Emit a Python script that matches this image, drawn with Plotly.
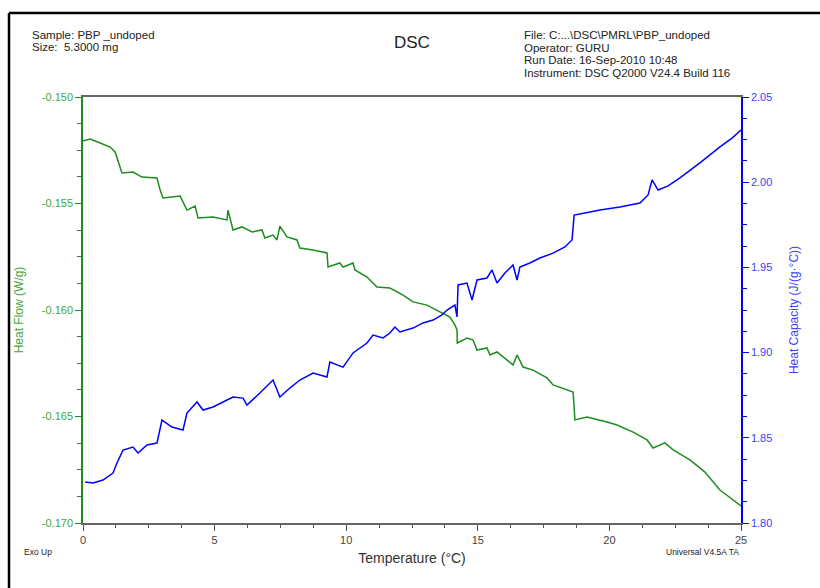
import plotly.graph_objects as go

# ---- data ----
temp_hf = [0.00, 0.27, 0.65, 1.03, 1.22, 1.48, 1.90, 2.24, 2.81, 2.93, 3.04, 3.69, 3.95, 4.26, 4.37,
           4.94, 5.47, 5.51, 5.70, 6.04, 6.42, 6.80, 6.91, 7.22, 7.37, 7.48, 7.75, 8.13, 8.24, 8.74,
           9.27, 9.31, 9.76, 9.88, 10.26, 10.33, 10.79, 11.17, 11.66, 12.16, 12.54, 13.07, 13.56,
           13.94, 14.13, 14.21, 14.22, 14.59, 14.82, 14.97, 15.35, 15.46, 15.73, 16.11, 16.34, 16.49,
           16.72, 17.10, 17.63, 17.86, 18.62, 18.69, 19.15, 19.91, 20.29, 20.90, 21.43, 21.66, 22.11,
           22.42, 23.06, 23.63, 24.20, 25.00]
heat_flow = [-0.15207, -0.15197, -0.15216, -0.15235, -0.15258, -0.15357, -0.15352, -0.15376, -0.15380,
             -0.15437, -0.15474, -0.15465, -0.15531, -0.15512, -0.15568, -0.15563, -0.15577, -0.15531,
             -0.15624, -0.15610, -0.15634, -0.15624, -0.15662, -0.15648, -0.15671, -0.15606, -0.15657,
             -0.15671, -0.15709, -0.15718, -0.15732, -0.15798, -0.15779, -0.15798, -0.15779, -0.15812,
             -0.15845, -0.15892, -0.15897, -0.15930, -0.15962, -0.15977, -0.16009, -0.16033, -0.16070,
             -0.16094, -0.16155, -0.16132, -0.16141, -0.16188, -0.16178, -0.16211, -0.16197, -0.16235,
             -0.16258, -0.16211, -0.16268, -0.16282, -0.16319, -0.16352, -0.16385, -0.16516, -0.16502,
             -0.16526, -0.16540, -0.16573, -0.16610, -0.16648, -0.16624, -0.16657, -0.16704, -0.16761,
             -0.16845, -0.16920]

temp_cp = [0.08, 0.38, 0.76, 1.14, 1.29, 1.52, 1.90, 2.09, 2.43, 2.81, 3.00, 3.38, 3.80, 3.95, 4.33,
           4.56, 4.94, 5.32, 5.70, 6.08, 6.23, 6.72, 7.22, 7.48, 7.86, 8.24, 8.74, 9.27, 9.38, 9.88,
           10.26, 10.79, 11.02, 11.40, 11.66, 11.85, 12.04, 12.54, 12.92, 13.30, 13.64, 13.83, 14.13,
           14.21, 14.25, 14.59, 14.78, 14.97, 15.35, 15.54, 15.73, 16.03, 16.34, 16.49, 16.60, 16.98,
           17.36, 17.86, 18.31, 18.58, 18.66, 19.07, 19.64, 20.40, 21.16, 21.47, 21.62, 21.85, 22.23,
           22.68, 23.44, 24.20, 24.66, 25.00]
heat_cap = [1.8240, 1.8235, 1.8252, 1.8293, 1.8352, 1.8428, 1.8446, 1.8411, 1.8458, 1.8469, 1.8604,
            1.8563, 1.8546, 1.8645, 1.8710, 1.8663, 1.8681, 1.8710, 1.8739, 1.8733, 1.8692, 1.8763,
            1.8839, 1.8739, 1.8792, 1.8839, 1.8880, 1.8857, 1.8945, 1.8915, 1.8998, 1.9056, 1.9103,
            1.9086, 1.9115, 1.9150, 1.9121, 1.9144, 1.9174, 1.9191, 1.9221, 1.9250, 1.9279, 1.9209,
            1.9397, 1.9408, 1.9309, 1.9426, 1.9438, 1.9485, 1.9408, 1.9467, 1.9514, 1.9426, 1.9502,
            1.9526, 1.9555, 1.9584, 1.9620, 1.9661, 1.9807, 1.9819, 1.9837, 1.9854, 1.9878, 1.9925,
            2.0013, 1.9954, 1.9978, 2.0025, 2.0113, 2.0207, 2.0259, 2.0306]

x_ticks = [0, 5, 10, 15, 20, 25]
hf_ticks = [-0.150, -0.155, -0.160, -0.165, -0.170]
hf_tick_text = ["-0.150", "-0.155", "-0.160", "-0.165", "-0.170"]
cp_ticks = [2.05, 2.00, 1.95, 1.90, 1.85, 1.80]
cp_tick_text = ["2.05", "2.00", "1.95", "1.90", "1.85", "1.80"]

header_left = ["Sample: PBP _undoped", "Size:  5.3000 mg"]
header_right = ["File: C:...\\DSC\\PMRL\\PBP_undoped", "Operator: GURU",
                "Run Date: 16-Sep-2010 10:48", "Instrument: DSC Q2000 V24.4 Build 116"]

GREEN = "#1e8c1e"
GREEN_TXT = "#45a83a"
BLUE = "#0000ff"
BLUE_TXT = "#3d3dff"
FONT = "Liberation Sans, Arial, sans-serif"

fig = go.Figure()
fig.add_trace(go.Scatter(x=temp_hf, y=heat_flow, mode="lines",
                         line=dict(color=GREEN, width=1.5), yaxis="y", showlegend=False))
fig.add_trace(go.Scatter(x=temp_cp, y=heat_cap, mode="lines",
                         line=dict(color=BLUE, width=1.5), yaxis="y2", showlegend=False))

W, H = 820, 588
L, R, T, B = 83, 79, 97, 65
pw, ph = W - L - R, H - T - B


def px(x):
    return (x - L) / pw


def py(y):
    return (H - B - y) / ph


fig.update_layout(
    width=W, height=H,
    margin=dict(l=L, r=R, t=T, b=B),
    paper_bgcolor="white", plot_bgcolor="white",
    font=dict(family=FONT, size=11, color="#333"),
    xaxis=dict(range=[0, 25], tickvals=x_ticks, ticks="outside", ticklen=6, tickwidth=1,
               tickcolor="#555", showline=True, linecolor="#666", linewidth=2, mirror=True,
               showgrid=False, zeroline=False,
               tickfont=dict(size=11, color="#444"),
               minor=dict(dtick=1.25, tick0=0, ticks="outside", ticklen=3, tickcolor="#555", showgrid=False),
               title=dict(text="Temperature (°C)", font=dict(size=14, color="#333"), standoff=8)),
    yaxis=dict(range=[-0.170, -0.150], tickvals=hf_ticks, ticktext=hf_tick_text,
               ticks="outside", ticklen=6, tickcolor=GREEN, showline=True, linecolor=GREEN,
               linewidth=1.5, showgrid=False, zeroline=False,
               tickfont=dict(size=11, color=GREEN_TXT),
               minor=dict(dtick=0.00125, tick0=-0.150, ticks="outside", ticklen=4,
                          tickcolor=GREEN, showgrid=False),
               title=dict(text="Heat Flow (W/g)", font=dict(size=12, color=GREEN_TXT), standoff=16)),
    yaxis2=dict(range=[1.80, 2.05], tickvals=cp_ticks, ticktext=cp_tick_text, overlaying="y",
                side="right", anchor="x",
                ticks="outside", ticklen=6, tickcolor=BLUE, showline=True, linecolor=BLUE,
                linewidth=1.5, showgrid=False, zeroline=False,
                tickfont=dict(size=11, color=BLUE_TXT),
                minor=dict(dtick=0.0125, tick0=1.80, ticks="outside", ticklen=4,
                           tickcolor=BLUE, showgrid=False),
                title=dict(text="Heat Capacity (J/(g·°C))", font=dict(size=12, color=BLUE_TXT),
                           standoff=18)),
    shapes=[
        dict(type="line", xref="paper", yref="paper", x0=px(9), x1=px(830), y0=py(13), y1=py(13),
             line=dict(color="black", width=2.5)),
        dict(type="line", xref="paper", yref="paper", x0=px(9), x1=px(9), y0=py(13), y1=py(600),
             line=dict(color="black", width=2.5)),
    ],
)


def note(text, x, y, size, anchor="left"):
    fig.add_annotation(text=text, x=px(x), y=py(y), xref="paper", yref="paper",
                       xanchor=anchor, yanchor="middle", showarrow=False,
                       font=dict(size=size, color="#222", family=FONT))


for i, t in enumerate(header_left):
    note(t, 30, 35 + 12 * i, 11.5)
for i, t in enumerate(header_right):
    note(t, 522, 35 + 12.7 * i, 11.5)
note("DSC", 412, 42, 17, "center")
note("Exo Up", 38, 552, 8.5, "center")
note("Universal V4.5A TA", 702, 552, 8.5, "center")

fig.write_html("out.html")
